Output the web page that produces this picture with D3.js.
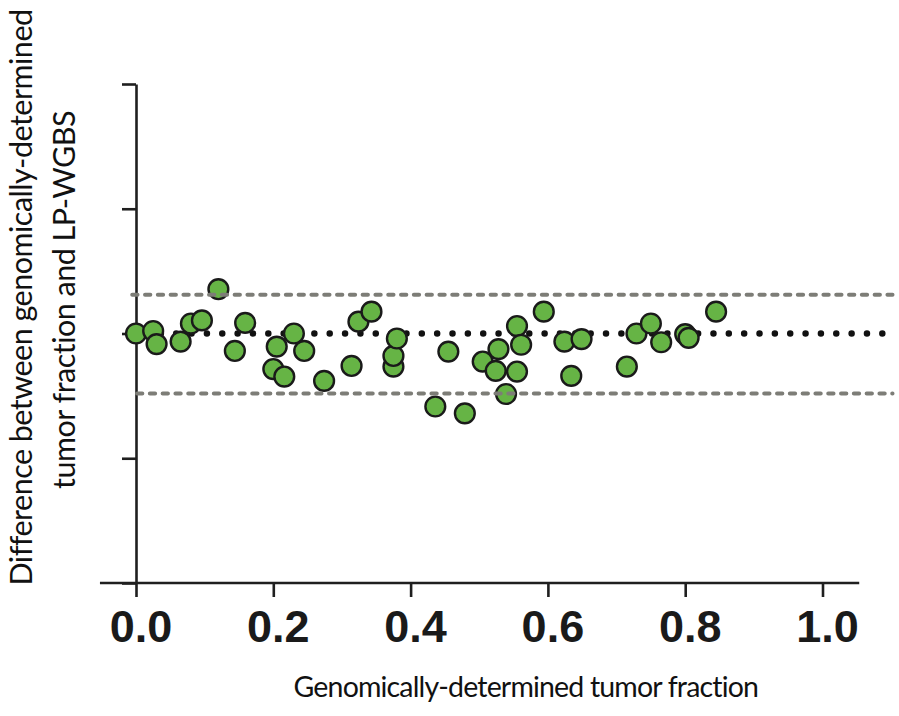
<!DOCTYPE html>
<html>
<head>
<meta charset="utf-8">
<script src="https://cdn.jsdelivr.net/npm/d3@7"></script>
<style>
  html, body { margin: 0; padding: 0; background: #fff; }
  svg { display: block; }
</style>
</head>
<body>
<svg id="chart" width="899" height="716"></svg>
<script>
// ---- data ----
const tumorFraction = [0.000, 0.025, 0.030, 0.065, 0.080, 0.096, 0.120, 0.144, 0.159, 0.205,
  0.200, 0.216, 0.230, 0.245, 0.274, 0.314, 0.324, 0.343, 0.375, 0.375,
  0.380, 0.436, 0.455, 0.479, 0.505, 0.524, 0.528, 0.539, 0.555, 0.555,
  0.561, 0.594, 0.624, 0.634, 0.649, 0.715, 0.729, 0.750, 0.765, 0.800,
  0.805, 0.845];
const difference = [0.000, 0.004, -0.017, -0.013, 0.016, 0.021, 0.071, -0.028, 0.017, -0.021,
  -0.057, -0.069, 0.000, -0.028, -0.076, -0.052, 0.019, 0.035, -0.053, -0.036,
  -0.008, -0.117, -0.029, -0.128, -0.045, -0.060, -0.025, -0.097, 0.012, -0.061,
  -0.018, 0.035, -0.013, -0.068, -0.009, -0.053, 0.000, 0.016, -0.014, -0.001,
  -0.007, 0.035];
const xTicks = [0, 0.2, 0.4, 0.6, 0.8, 1.0];
const xTickLabels = ["0.0", "0.2", "0.4", "0.6", "0.8", "1.0"];
const yTicks = [-0.4, -0.2, 0, 0.2, 0.4];
const zeroLine = 0;
const upperLimit = 0.062;
const lowerLimit = -0.096;
const xTitle = "Genomically-determined tumor fraction";
const yTitleLines = ["Difference between genomically-determined", "tumor fraction and LP-WGBS"];

// ---- layout ----
const svg = d3.select("#chart");
const x = d3.scaleLinear().domain([0, 1]).range([136, 822.5]);
const y = d3.scaleLinear().domain([-0.4, 0.4]).range([583, 84]);

const axisColor = "#1f1f1f";

// x axis
const gx = svg.append("g").attr("transform", `translate(0,${y(-0.4)})`);
gx.append("line")
  .attr("x1", x(-0.0525)).attr("x2", x(1.0535))
  .attr("y1", 0).attr("y2", 0)
  .attr("stroke", axisColor).attr("stroke-width", 2.6);
const xAxis = d3.axisBottom(x).tickValues(xTicks).tickSize(14).tickSizeOuter(0)
  .tickFormat((d, i) => xTickLabels[i]);
gx.call(xAxis);
gx.select(".domain").remove();
gx.selectAll(".tick line").attr("stroke", axisColor).attr("stroke-width", 2.6);
gx.selectAll(".tick text")
  .attr("y", 58.7).attr("dy", 0).attr("dx", 4.5)
  .attr("fill", "#1a1a1a")
  .style("font-family", "'Liberation Sans', Arial, sans-serif")
  .style("font-weight", "bold")
  .style("font-size", "45px");

// y axis
const gy = svg.append("g").attr("transform", `translate(${x(0)},0)`);
const yAxis = d3.axisLeft(y).tickValues(yTicks).tickSize(14).tickSizeOuter(0).tickFormat("");
gy.call(yAxis);
gy.select(".domain").attr("stroke", axisColor).attr("stroke-width", 2.6);
gy.selectAll(".tick line").attr("stroke", axisColor).attr("stroke-width", 2.6);

// zero dotted line (behind points)
svg.append("line")
  .attr("x1", x(-0.0085)).attr("x2", x(1.0885))
  .attr("y1", y(zeroLine)).attr("y2", y(zeroLine))
  .attr("stroke", "#111").attr("stroke-width", 6.5)
  .attr("stroke-linecap", "round")
  .attr("stroke-dasharray", "0,15.35");

// points
svg.append("g").selectAll("circle")
  .data(tumorFraction.map((v, i) => ({ x: v, y: difference[i] })))
  .join("circle")
  .attr("cx", d => x(d.x))
  .attr("cy", d => y(d.y))
  .attr("r", 9.9)
  .attr("fill", "#66b445")
  .attr("stroke", "#1a1a1a")
  .attr("stroke-width", 2.4);

// limits of agreement (dashed grey, drawn over points)
const limits = [
  { v: upperLimit, x0: -0.0055 },
  { v: lowerLimit, x0: 0.0015 }
];
svg.append("g").selectAll("line")
  .data(limits)
  .join("line")
  .attr("x1", d => x(d.x0)).attr("x2", x(1.102))
  .attr("y1", d => y(d.v)).attr("y2", d => y(d.v))
  .attr("stroke", "#7d7d77").attr("stroke-width", 4)
  .attr("stroke-linecap", "round")
  .attr("stroke-dasharray", "5.3,7.5");

// titles (slightly tightened letter spacing to mimic a narrow humanist face)
const titleFont = "Lato, 'Open Sans', sans-serif";
function fitSpacing(sel, target) {
  const w = sel.node().getComputedTextLength();
  const n = sel.text().length;
  sel.style("letter-spacing", ((target - w) / n) + "px");
}

const xt = svg.append("text")
  .attr("x", 525.8).attr("y", 697)
  .attr("text-anchor", "middle")
  .attr("fill", "#111")
  .style("font-family", titleFont)
  .style("font-size", "28.5px")
  .text(xTitle);
fitSpacing(xt, 465);

const yLinePos = [
  { bx: 32, cy: 297.5, len: 575 },
  { bx: 75, cy: 300, len: null }
];
const ySizePx = 30.5;
const first = svg.append("text")
  .attr("transform", `translate(${yLinePos[0].bx},${yLinePos[0].cy}) rotate(-90)`)
  .attr("text-anchor", "middle")
  .attr("fill", "#111")
  .style("font-family", titleFont)
  .style("font-size", ySizePx + "px")
  .text(yTitleLines[0]);
fitSpacing(first, 575);
const spacing = first.style("letter-spacing");
svg.append("text")
  .attr("transform", `translate(${yLinePos[1].bx},${yLinePos[1].cy}) rotate(-90)`)
  .attr("text-anchor", "middle")
  .attr("fill", "#111")
  .style("font-family", titleFont)
  .style("font-size", ySizePx + "px")
  .style("letter-spacing", spacing)
  .text(yTitleLines[1]);
</script>
</body>
</html>
